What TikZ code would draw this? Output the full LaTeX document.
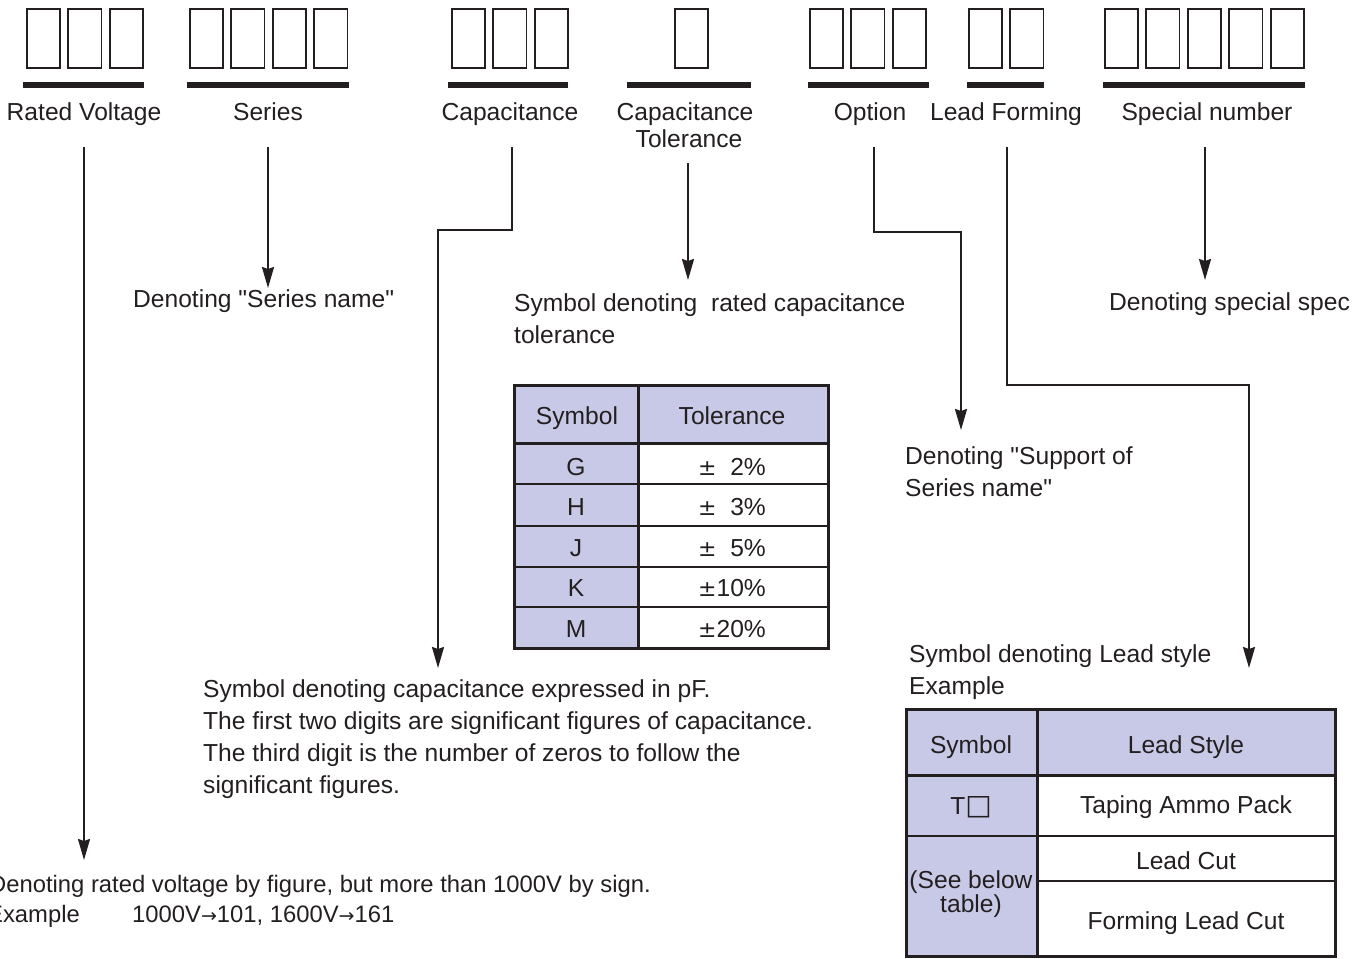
\documentclass[tikz,border=0pt]{standalone}
\usepackage{fontspec}
\setmainfont{Liberation Sans}[Ligatures=TeXOff]
\newfontfamily\symfont{DejaVu Sans}
\usetikzlibrary{arrows.meta}
\definecolor{ink}{RGB}{35,31,32}
\definecolor{lav}{RGB}{200,201,230}
\newcommand\fsz{\fontsize{24.6}{30}\selectfont}
\newcommand\fszb{\fontsize{23.8}{30}\selectfont}
\newcommand\pmsym{{\symfont\fontsize{22}{24}\selectfont ±}}
\newcommand\rarr{{\symfont\fontsize{19}{20}\selectfont →}}
\tikzset{
  digitbox/.style={draw=ink, line width=1.7pt, minimum width=33.3pt, minimum height=59.3pt, inner sep=0pt, anchor=north west},
  lbl/.style={font=\fsz, text=ink, inner sep=0pt, anchor=base},
  txt/.style={font=\fsz, text=ink, inner sep=0pt, anchor=base west},
  conn/.style={draw=ink, line width=2pt, -{Stealth[length=21pt,width=12pt,inset=2pt]}},
  bar/.style={fill=ink},
  tblthick/.style={draw=ink, line width=3pt},
  tblthin/.style={draw=ink, line width=1.6pt},
}
\begin{document}
\begin{tikzpicture}[x=1pt,y=-1pt]
\useasboundingbox (0,0) rectangle (1372,958);

% ---- digit boxes ----
\foreach \n/\x/\k in {rv/25/3, se/188/4, ca/450/3, to/673/1, op/808/3, lf/967/2, sp/1103/5}{
  \foreach \i in {1,...,\k}{
    \node[digitbox] (\n\i) at ({\x+(\i-1)*41.5+0.85},7.85) {};
  }
}
% ---- bars ----
\fill[bar] (23,82) rectangle (144,88);
\fill[bar] (187,82) rectangle (349,88);
\fill[bar] (448,82) rectangle (568,88);
\fill[bar] (627,82) rectangle (751,88);
\fill[bar] (808,82) rectangle (929,88);
\fill[bar] (967,82) rectangle (1044,88);
\fill[bar] (1103,82) rectangle (1305,88);

% ---- labels ----
\node[lbl] (Lrv) at (84,120) {Rated Voltage};
\node[lbl] (Lse) at (268,120) {Series};
\node[lbl] (Lca) at (510,120) {Capacitance};
\node[lbl] (Lto) at (685,120) {Capacitance};
\node[lbl] (Lto2) at (689,147) {Tolerance};
\node[lbl] (Lop) at (870,120) {Option};
\node[lbl] (Llf) at (1006,120) {Lead Forming};
\node[lbl] (Lsp) at (1207,120) {Special number};

% ---- descriptions ----
\node[txt] (Dse) at (133,307) {Denoting "Series name"};
\node[txt] (Dto1) at (514,311) {Symbol denoting\ \ rated capacitance};
\node[txt] (Dto2) at (514,343) {tolerance};
\node[txt] (Dsp) at (1109,310) {Denoting special spec};
\node[txt] (Dop1) at (905,464) {Denoting "Support of};
\node[txt] (Dop2) at (905,496) {Series name"};
\node[txt] (Dlf1) at (909,662) {Symbol denoting Lead style};
\node[txt] (Dlf2) at (909,694) {Example};
\node[txt] (Dca1) at (203,697) {Symbol denoting capacitance expressed in pF.};
\node[txt] (Dca2) at (203,729) {The first two digits are significant figures of capacitance.};
\node[txt] (Dca3) at (203,761) {The third digit is the number of zeros to follow the};
\node[txt] (Dca4) at (203,793) {significant figures.};
\node[txt, font=\fszb] (Drv1) at (-11,892) {Denoting rated voltage by figure, but more than 1000V by sign.};
\node[txt, font=\fszb] (Drv2) at (-13,922) {Example};
\node[txt, font=\fszb] (Drv3) at (132,922) {1000V\rarr 101, 1600V\rarr 161};

% ---- connectors ----
\coordinate (Srv) at (84,147);   \coordinate (Erv) at (84,860);
\coordinate (Sse) at (268,147);  \coordinate (Ese) at (268,288);
\coordinate (Sca) at (512,147);  \coordinate (Bca) at (512,230); \coordinate (Eca) at (438,668);
\coordinate (Sto) at (688,163);  \coordinate (Eto) at (688,280);
\coordinate (Sop) at (874,147);  \coordinate (Bop) at (874,232); \coordinate (Eop) at (961,430);
\coordinate (Slf) at (1007,147); \coordinate (Blf) at (1007,385); \coordinate (Elf) at (1249,668);
\coordinate (Ssp) at (1205,147); \coordinate (Esp) at (1205,280);

\draw[conn] (Srv) -- (Erv);
\draw[conn] (Sse) -- (Ese);
\draw[conn] (Sca) -- (Bca) -| (Eca);
\draw[conn] (Sto) -- (Eto);
\draw[conn] (Sop) -- (Bop) -| (Eop);
\draw[conn] (Slf) -- (Blf) -| (Elf);
\draw[conn] (Ssp) -- (Esp);

% ---- tolerance table ----
\fill[lav] (514,385) rectangle (638,648);
\fill[lav] (638,385) rectangle (828,443);
\foreach \y in {484,526,567,607}{ \draw[tblthin] (514,\y) -- (828,\y); }
\draw[tblthick] (514,443) -- (828,443);
\draw[tblthick] (638,385) -- (638,648);
\draw[tblthick] (514,385) rectangle (828,648);
\node[lbl] (Th1) at (577,424) {Symbol};
\node[lbl] (Th2) at (732,424) {Tolerance};
\foreach \s/\t/\y [count=\r] in {G/{\pmsym\phantom{1}2\%}/475, H/{\pmsym\phantom{1}3\%}/515, J/{\pmsym\phantom{1}5\%}/556, K/{\pmsym 10\%}/596, M/{\pmsym 20\%}/637}{
  \node[lbl] (Ts\r) at (576,\y) {\s};
  \node[lbl] (Tt\r) at (732,\y) {\t};
}

% ---- lead style table ----
\fill[lav] (906,709) rectangle (1037,956);
\fill[lav] (1037,709) rectangle (1335,775);
\draw[tblthin] (1037,881) -- (1335,881);
\draw[tblthin, line width=2pt] (906,836) -- (1335,836);
\draw[tblthick] (906,775) -- (1335,775);
\draw[tblthick] (1037,709) -- (1037,956);
\draw[tblthick] (906,709) rectangle (1335,956);
\node[lbl] (Lh1) at (971,753) {Symbol};
\node[lbl] (Lh2) at (1186,753) {Lead Style};
\node[lbl] (Ls1) at (971,814) {T{\symfont\fontsize{28}{30}\selectfont □}};
\node[lbl] (Lt1) at (1186,813) {Taping Ammo Pack};
\node[lbl] (Lt2) at (1186,869) {Lead Cut};
\node[lbl] (Lt3) at (1186,929) {Forming Lead Cut};
\node[lbl] (Ls2a) at (971,888) {(See below};
\node[lbl] (Ls2b) at (971,912) {table)};
\end{tikzpicture}
\end{document}
